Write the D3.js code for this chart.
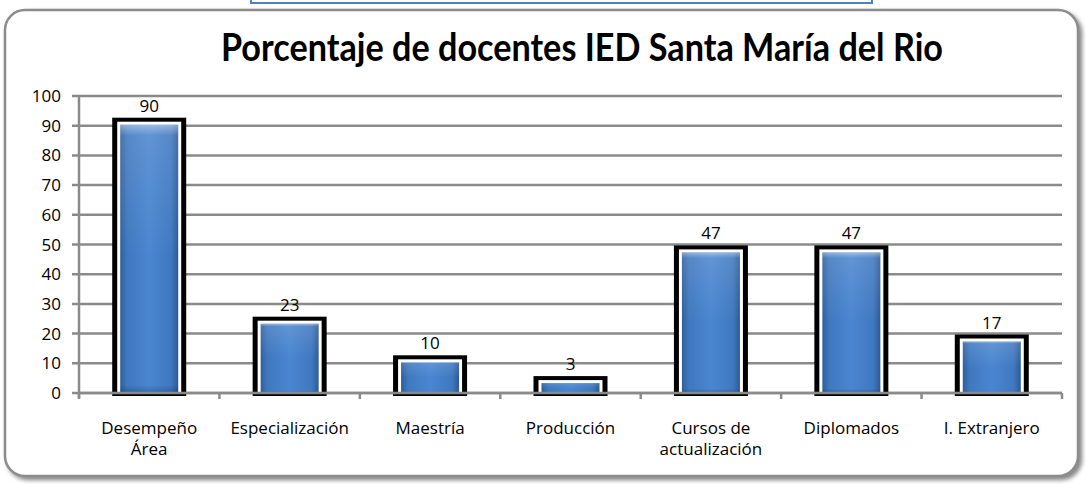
<!DOCTYPE html>
<html><head><meta charset="utf-8">
<script src="https://cdn.jsdelivr.net/npm/d3@7"></script>
<style>html,body{margin:0;padding:0;background:#fff;}svg{display:block;}</style>
</head><body>
<svg id="c" width="1086" height="484"></svg>
<script>
const categories = [["Desempeño","Área"],["Especialización"],["Maestría"],["Producción"],["Cursos de","actualización"],["Diplomados"],["I. Extranjero"]];
const values = [90, 23, 10, 3, 47, 47, 17];
const yTicks = [0,10,20,30,40,50,60,70,80,90,100];
const title = "Porcentaje de docentes IED Santa María del Rio";

const svg = d3.select("#c");
const defs = svg.append("defs");
const f = defs.append("filter").attr("id","sh").attr("x","-5%").attr("y","-5%").attr("width","110%").attr("height","115%");
f.append("feDropShadow").attr("dx",3).attr("dy",3).attr("stdDeviation",2).attr("flood-color","#555").attr("flood-opacity",0.7);
const g1 = defs.append("linearGradient").attr("id","bh").attr("x1","0").attr("x2","1").attr("y1","0").attr("y2","0");
[[0,"#2f5f9c"],[0.12,"#3f78bf"],[0.5,"#4a86d0"],[0.88,"#3f78bf"],[1,"#2c5a95"]].forEach(s=>g1.append("stop").attr("offset",s[0]).attr("stop-color",s[1]));
const g2 = defs.append("linearGradient").attr("id","bv").attr("x1","0").attr("x2","0").attr("y1","0").attr("y2","1");
[[0,"#ffffff",0.45],[0.04,"#ffffff",0.12],[0.5,"#ffffff",0],[0.97,"#000000",0.0],[1,"#000000",0.2]].forEach(s=>g2.append("stop").attr("offset",s[0]).attr("stop-color",s[1]).attr("stop-opacity",s[2]));

// top blue box (partially visible)
svg.append("rect").attr("x",251).attr("y",-10).attr("width",621).attr("height",13)
  .attr("fill","#fff").attr("stroke","#4f81bd").attr("stroke-width",2);

// outer frame
svg.append("rect").attr("x",5).attr("y",10).attr("width",1073).attr("height",466).attr("rx",20)
  .attr("fill","#fff").attr("stroke","#8c8c8c").attr("stroke-width",2.5).attr("filter","url(#sh)");

svg.append("text").attr("x",221).attr("y",61).attr("textLength",722).attr("lengthAdjust","spacingAndGlyphs")
  .attr("font-family","Lato, 'Open Sans', sans-serif").attr("font-weight","bold").attr("font-size",39)
  .attr("fill","#000").text(title);

const x = d3.scaleBand().domain(d3.range(categories.length)).range([79,1062]).padding(0);
const y = d3.scaleLinear().domain([0,100]).range([393,96]);

const font = "'Open Sans', Lato, sans-serif";
const fs = 17;
// gridlines
svg.append("g").selectAll("line").data(yTicks).join("line")
  .attr("x1",72).attr("x2",1062).attr("y1",d=>y(d)).attr("y2",d=>y(d))
  .attr("stroke","#8a8a8a").attr("stroke-width",2.5);
// y axis line
svg.append("line").attr("x1",79).attr("x2",79).attr("y1",y(100)).attr("y2",y(0)+5).attr("stroke","#8a8a8a").attr("stroke-width",2.5);
// x ticks
svg.append("g").selectAll("line").data(d3.range(categories.length+1)).join("line")
  .attr("x1",d=>79+d*x.step()).attr("x2",d=>79+d*x.step()).attr("y1",y(0)).attr("y2",y(0)+6)
  .attr("stroke","#8a8a8a").attr("stroke-width",2.5);
// y labels
svg.append("g").selectAll("text").data(yTicks).join("text")
  .attr("x",61).attr("y",d=>y(d)+6).attr("text-anchor","end")
  .attr("font-family",font).attr("font-size",fs).attr("fill","#000").text(d=>d);

// bars
const bw = x.bandwidth();
const bars = svg.append("g").selectAll("g").data(values).join("g");
bars.append("rect")
  .attr("x",(d,i)=>x(i)+bw/2-37).attr("width",74)
  .attr("y",d=>y(d)-8).attr("height",d=>y(0)-y(d)+11)
  .attr("fill","#000");
bars.append("rect")
  .attr("x",(d,i)=>x(i)+bw/2-32).attr("width",64)
  .attr("y",d=>y(d)-4).attr("height",d=>y(0)-y(d)+4)
  .attr("fill","#fff");
bars.append("rect")
  .attr("x",(d,i)=>x(i)+bw/2-29).attr("width",58)
  .attr("y",d=>y(d)-1).attr("height",d=>y(0)-y(d)+1)
  .attr("fill","url(#bh)");
bars.append("rect")
  .attr("x",(d,i)=>x(i)+bw/2-29).attr("width",58)
  .attr("y",d=>y(d)-1).attr("height",d=>y(0)-y(d)+1)
  .attr("fill","url(#bv)");
// redraw axis over bar bottoms
svg.append("line").attr("x1",79).attr("x2",1062).attr("y1",y(0)).attr("y2",y(0)).attr("stroke","#8a8a8a").attr("stroke-width",2.5);
bars.append("text")
  .attr("x",(d,i)=>x(i)+bw/2).attr("y",d=>y(d)-14).attr("text-anchor","middle")
  .attr("font-family",font).attr("font-size",fs).attr("fill","#000").text(d=>d);

// category labels
const cl = svg.append("g").selectAll("text").data(categories).join("text")
  .attr("x",(d,i)=>x(i)+bw/2).attr("y",434).attr("text-anchor","middle")
  .attr("font-family",font).attr("font-size",fs).attr("fill","#000");
cl.selectAll("tspan").data(d=>d).join("tspan")
  .attr("x",function(){return this.parentNode.getAttribute("x");})
  .attr("dy",(d,i)=>i===0?0:21).text(d=>d);
</script>
</body></html>
